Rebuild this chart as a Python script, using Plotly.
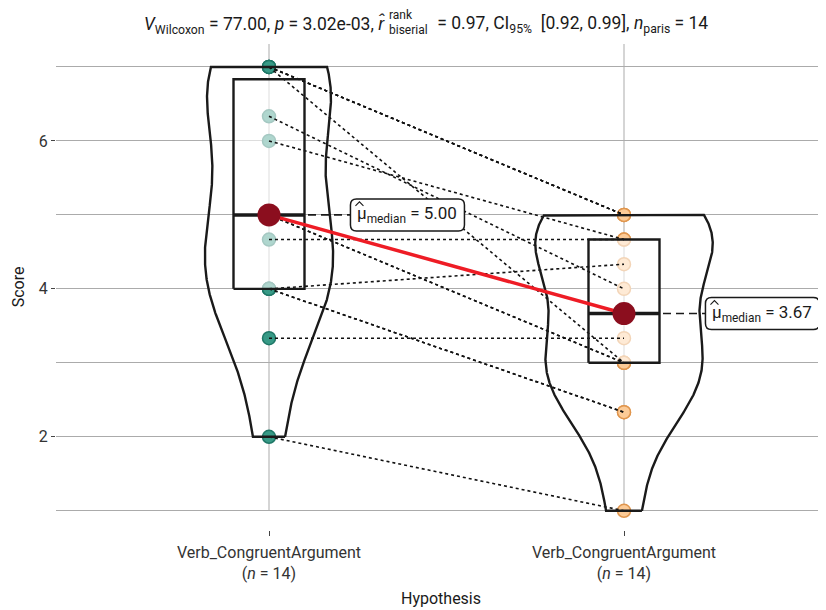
import numpy as np
import plotly.graph_objects as go

# ---------------- data ----------------
group_labels = ["Verb_CongruentArgument", "Verb_CongruentArgument"]
group_n = [14, 14]
pre_scores = [7, 7, 7, 7, 6.333, 6, 5, 5, 4.667, 4, 4, 4, 3.333, 2]
post_scores = [5, 5, 5, 3, 4, 4.667, 3, 3, 4.667, 4.333, 2.333, 2.333, 3.333, 1]
y_tick_vals = [2, 4, 6]
title_left = "<i>V</i><sub>Wilcoxon</sub> = 77.00, <i>p</i> = 3.02e-03, <i>r̂</i>"
title_sup = "rank"
title_sub = "biserial"
title_right = " = 0.97, CI<sub>95%</sub>  [0.92, 0.99], <i>n</i><sub>paris</sub> = 14"

FONT = "Roboto, sans-serif"
positions = [1, 2]
groups = [np.array(pre_scores, float), np.array(post_scores, float)]
pt_fill = ["#379A86", "#FCCB97"]
pt_line = ["#1F7767", "#E0964E"]

# page is offset by the 8px body margin; figure drawn in 818x602
W, H = 818, 602
ML, MR, MT, MB = 48, 0, 36, 80
PH = H - MT - MB


def py(fig_y):
    """figure pixel y -> paper y"""
    return 1 + (MT - fig_y) / PH


def px(fig_x):
    return (fig_x - ML) / (W - ML - MR)


def nrd0(x):
    sd = np.std(x, ddof=1)
    iqr = np.percentile(x, 75) - np.percentile(x, 25)
    lo = min(sd, iqr / 1.34)
    return 0.9 * lo * len(x) ** (-0.2)


def kde(x, n=512):
    bw = nrd0(x)
    grid = np.linspace(x.min(), x.max(), n)
    d = np.exp(-0.5 * ((grid[:, None] - x[None, :]) / bw) ** 2).sum(axis=1)
    d = d / (len(x) * bw * np.sqrt(2 * np.pi))
    return grid, d


dens = [kde(g) for g in groups]
dmax = max(d.max() for _, d in dens)
VW = 0.25
BW = 0.1

fig = go.Figure()

# vertical category lines
for p in positions:
    fig.add_trace(go.Scatter(x=[p, p], y=[1, 7.31], mode="lines",
                             line=dict(color="#ababab", width=1), hoverinfo="skip"))

# points
for p, g, fc, lc in zip(positions, groups, pt_fill, pt_line):
    fig.add_trace(go.Scatter(x=[p] * len(g), y=g, mode="markers",
                             marker=dict(size=13, color=fc, line=dict(color=lc, width=1.5)),
                             hoverinfo="skip"))

# box fill (white translucent)
stats = []
for p, g in zip(positions, groups):
    q1, med, q3 = np.percentile(g, [25, 50, 75])
    stats.append((q1, med, q3))
    fig.add_trace(go.Scatter(x=[p - BW, p + BW, p + BW, p - BW, p - BW], y=[q1, q1, q3, q3, q1],
                             mode="lines", fill="toself", fillcolor="rgba(255,255,255,0.6)",
                             line=dict(width=0), hoverinfo="skip"))

# paired lines
for a, b in zip(pre_scores, post_scores):
    fig.add_trace(go.Scatter(x=positions, y=[a, b], mode="lines",
                             line=dict(color="#111111", width=1.6, dash="3px,3px"),
                             hoverinfo="skip"))

# box outlines + median
for p, (q1, med, q3) in zip(positions, stats):
    fig.add_trace(go.Scatter(x=[p - BW, p + BW, p + BW, p - BW, p - BW], y=[q1, q1, q3, q3, q1],
                             mode="lines", line=dict(color="#1a1a1a", width=2.4), hoverinfo="skip"))
    fig.add_trace(go.Scatter(x=[p - BW, p + BW], y=[med, med], mode="lines",
                             line=dict(color="#1a1a1a", width=3.5), hoverinfo="skip"))

# violins
for p, (grid, d) in zip(positions, dens):
    hw = d / dmax * VW
    xs = np.concatenate([p + hw, (p - hw)[::-1], [p + hw[0]]])
    ys = np.concatenate([grid, grid[::-1], [grid[0]]])
    fig.add_trace(go.Scatter(x=xs, y=ys, mode="lines", line=dict(color="#1a1a1a", width=2.4),
                             hoverinfo="skip"))

# median connectors
meds = [s[1] for s in stats]
for p, m in zip(positions, meds):
    fig.add_trace(go.Scatter(x=[p, p + 0.235], y=[m, m], mode="lines",
                             line=dict(color="#1a1a1a", width=1.6, dash="8px,5px"), hoverinfo="skip"))

# red median line
fig.add_trace(go.Scatter(x=positions, y=meds, mode="lines",
                         line=dict(color="#EE1C25", width=3.5), hoverinfo="skip"))
fig.add_trace(go.Scatter(x=positions, y=meds, mode="markers",
                         marker=dict(size=23, color="#8B0E1E"), hoverinfo="skip"))

# median labels with rounded boxes
bw_px, bh_px, r = 114, 32, 6
hw_, hh_ = bw_px / 2, bh_px / 2
path = (f"M {-hw_ + r},{-hh_} L {hw_ - r},{-hh_} Q {hw_},{-hh_} {hw_},{-hh_ + r} "
        f"L {hw_},{hh_ - r} Q {hw_},{hh_} {hw_ - r},{hh_} L {-hw_ + r},{hh_} "
        f"Q {-hw_},{hh_} {-hw_},{hh_ - r} L {-hw_},{-hh_ + r} Q {-hw_},{-hh_} {-hw_ + r},{-hh_} Z")
hat = "M -52,9 L -48,13 L -44,9"
for p, m in zip(positions, meds):
    fig.add_shape(type="path", xref="x", yref="y", xsizemode="pixel", ysizemode="pixel",
                  xanchor=p + 0.39, yanchor=m, path=path,
                  fillcolor="white", line=dict(color="#1a1a1a", width=1.5), layer="above")
    fig.add_shape(type="path", xref="x", yref="y", xsizemode="pixel", ysizemode="pixel",
                  xanchor=p + 0.39, yanchor=m, path=hat,
                  line=dict(color="#1a1a1a", width=1.1), layer="above")
    fig.add_annotation(x=p + 0.39, y=m, xref="x", yref="y",
                       text="μ<sub>median</sub> = %.2f" % m, showarrow=False,
                       font=dict(family=FONT, size=17, color="#1a1a1a"))

# title pieces
TF = dict(family=FONT, size=17.5, color="#1a1a1a")
SF = dict(family=FONT, size=12, color="#1a1a1a")
fig.add_annotation(x=px(379), y=py(2.5), xref="paper", yref="paper", xanchor="right", yanchor="top",
                   text=title_left, showarrow=False, font=TF)
fig.add_annotation(x=px(379), y=py(7), xref="paper", yref="paper", xanchor="left", yanchor="middle",
                   text=title_sup, showarrow=False, font=SF)
fig.add_annotation(x=px(379), y=py(22), xref="paper", yref="paper", xanchor="left", yanchor="middle",
                   text=title_sub, showarrow=False, font=SF)
fig.add_annotation(x=px(423), y=py(2.5), xref="paper", yref="paper", xanchor="left", yanchor="top",
                   text=title_right, showarrow=False, font=TF)

ticktext = ["%s<br>(<i>n</i> = %d)" % (l, n) for l, n in zip(group_labels, group_n)]

fig.update_layout(
    width=W, height=H,
    margin=dict(l=ML, r=MR, t=MT, b=MB),
    paper_bgcolor="white", plot_bgcolor="white",
    showlegend=False,
    font=dict(family=FONT, size=16, color="#1a1a1a"),
    xaxis=dict(range=[0.4, 2.569], tickvals=positions, ticktext=ticktext,
               showgrid=False, zeroline=False, showline=False,
               ticks="outside", ticklen=5, tickcolor="#444", ticklabelstandoff=3,
               tickfont=dict(family=FONT, size=16, color="#333"),
               title=dict(text="Hypothesis", font=dict(family=FONT, size=16, color="#1a1a1a"),
                          standoff=10)),
    yaxis=dict(range=[0.74, 7.31], tickvals=y_tick_vals, showgrid=True, gridcolor="#ababab",
               gridwidth=1, zeroline=False, showline=False,
               ticks="outside", ticklen=4, tickcolor="#444",
               tickfont=dict(family=FONT, size=16, color="#333"),
               minor=dict(tickmode="linear", tick0=1, dtick=1, showgrid=True,
                          gridcolor="#ababab", gridwidth=1, ticks=""),
               title=dict(text="Score", font=dict(family=FONT, size=16, color="#1a1a1a"),
                          standoff=10)),
)

fig.write_html("out.html")
